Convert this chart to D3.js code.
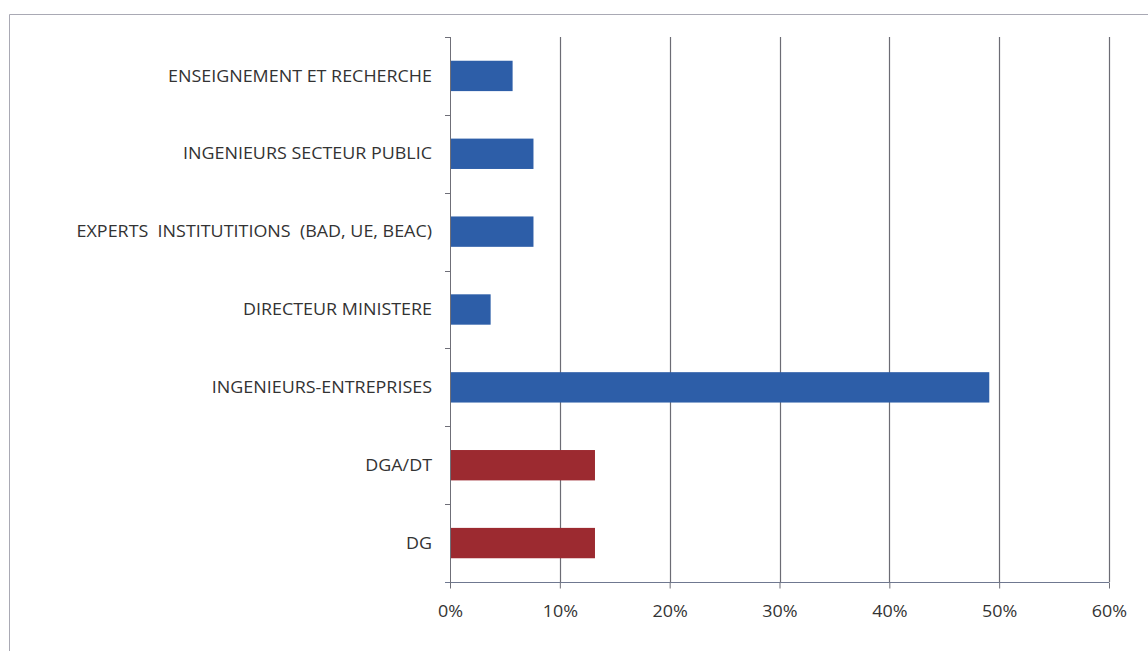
<!DOCTYPE html>
<html>
<head>
<meta charset="utf-8">
<script src="https://cdn.jsdelivr.net/npm/d3@7"></script>
<style>
  html, body { margin: 0; padding: 0; background: #fff; }
  svg text { font-family: "Open Sans", Lato, sans-serif; fill: #333; white-space: pre; }
</style>
</head>
<body>
<div id="chart"></div>
<script>
// categories, top to bottom
const categories = [
  'ENSEIGNEMENT ET RECHERCHE',
  'INGENIEURS SECTEUR PUBLIC',
  'EXPERTS  INSTITUTITIONS  (BAD, UE, BEAC)',
  'DIRECTEUR MINISTERE',
  'INGENIEURS-ENTREPRISES',
  'DGA/DT',
  'DG'
];
// share of respondents (fraction)
const values = [0.057, 0.076, 0.076, 0.037, 0.491, 0.132, 0.132];
// bar group: 0 = blue, 1 = red
const groups = [0, 0, 0, 0, 0, 1, 1];
const xTicks = [0, 0.1, 0.2, 0.3, 0.4, 0.5, 0.6];

const W = 1148, H = 651;
const mLeft = 450, mRight = 1109, mTop = 37, mBottom = 582;
const colors = ['#2d5ea8', '#9c2a30'];
const stretch = 1.12; // the scanned text is a bit wider than Open Sans

const svg = d3.select('#chart').append('svg')
  .attr('width', W)
  .attr('height', H);

// outer frame (runs off the right and bottom edge)
svg.append('path')
  .attr('d', `M9.5,${H + 2} V14.5 H${W + 2}`)
  .attr('fill', 'none')
  .attr('stroke', '#a9a9b4')
  .attr('stroke-width', 1);

const x = d3.scaleLinear().domain([0, 0.6]).range([mLeft, mRight]);
const y = d3.scaleBand().domain(categories).range([mTop, mBottom]).paddingInner(0.61).paddingOuter(0.305);
const yEdge = d3.scaleLinear().domain([0, categories.length]).range([mTop, mBottom]);

// vertical gridlines
svg.append('g')
  .selectAll('line')
  .data(xTicks.slice(1))
  .enter().append('line')
  .attr('x1', d => Math.round(x(d)) + 0.5)
  .attr('x2', d => Math.round(x(d)) + 0.5)
  .attr('y1', mTop)
  .attr('y2', mBottom)
  .attr('stroke', '#6c6c74')
  .attr('stroke-width', 1.2);

// bars
svg.append('g')
  .selectAll('rect')
  .data(values)
  .enter().append('rect')
  .attr('x', x(0))
  .attr('y', (d, i) => y(categories[i]))
  .attr('width', d => x(d) - x(0))
  .attr('height', y.bandwidth())
  .attr('fill', (d, i) => colors[groups[i]]);

// x axis
const xAxis = d3.axisBottom(x)
  .tickValues(xTicks)
  .tickFormat(d3.format('.0%'))
  .tickSize(6)
  .tickSizeOuter(0);

const gx = svg.append('g')
  .attr('transform', `translate(0,${mBottom + 0.5})`)
  .call(xAxis);
gx.select('.domain').attr('stroke', '#6f7890').attr('d', `M${mLeft - 5},0H${mRight}`);
gx.selectAll('.tick line').attr('stroke', '#6f6f78');
gx.selectAll('.tick text')
  .attr('dy', 0)
  .attr('y', 0)
  .attr('transform', `translate(0,34) scale(${stretch},1)`)
  .style('font-size', '16px');

// y axis line and boundary ticks
svg.append('line')
  .attr('x1', mLeft + 0.5).attr('x2', mLeft + 0.5)
  .attr('y1', mTop).attr('y2', mBottom + 6)
  .attr('stroke', '#6f6f78');
svg.append('g')
  .selectAll('line')
  .data(d3.range(categories.length))
  .enter().append('line')
  .attr('x1', mLeft - 5).attr('x2', mLeft)
  .attr('y1', d => Math.round(yEdge(d)) + 0.5)
  .attr('y2', d => Math.round(yEdge(d)) + 0.5)
  .attr('stroke', '#6f6f78');

// category labels
svg.append('g')
  .selectAll('text')
  .data(categories)
  .enter().append('text')
  .attr('transform', d => `translate(432,${y(d) + y.bandwidth() / 2}) scale(${stretch},1)`)
  .attr('dy', '0.35em')
  .attr('text-anchor', 'end')
  .style('font-size', '16px')
  .text(d => d);
</script>
</body>
</html>
